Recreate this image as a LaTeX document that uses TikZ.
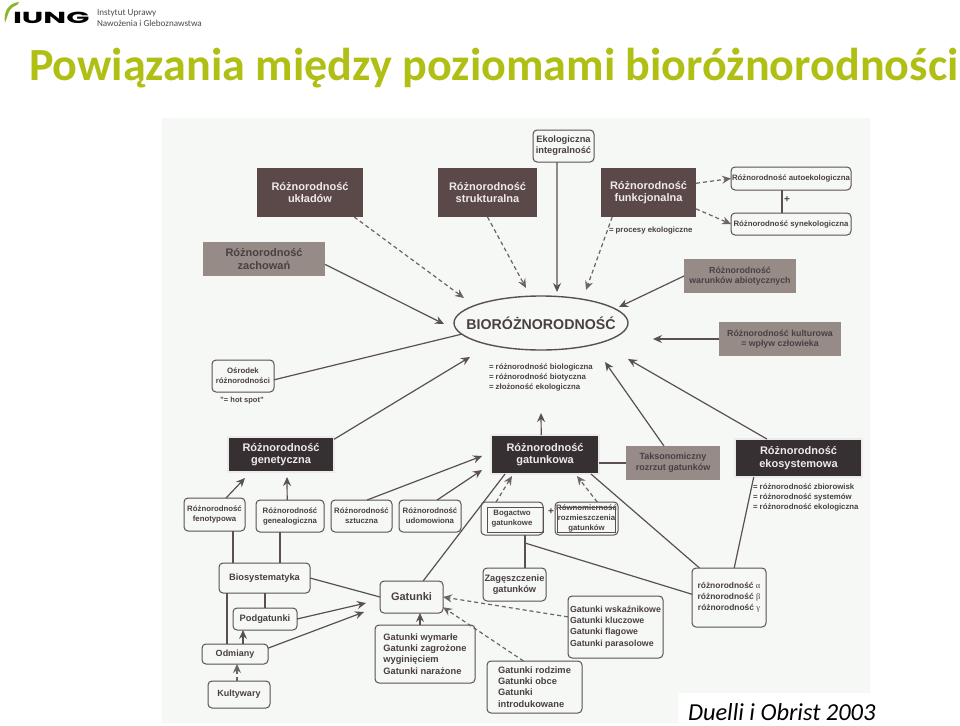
\documentclass[tikz,border=0pt]{standalone}
\usepackage{fontspec}
\usepackage{graphicx}
\setmainfont{Liberation Sans}
\newfontfamily\titlefont{Carlito}
\newfontfamily\logofont{Poppins}
\newfontfamily\greekfont{Liberation Serif}
\usetikzlibrary{arrows.meta,shapes.geometric,calc}
\definecolor{scanbg}{HTML}{F6F8F6}
\definecolor{titlegreen}{HTML}{B0BF14}
\definecolor{leafgreen}{HTML}{8DB62A}
\definecolor{logotxt}{HTML}{4A4A4A}
\definecolor{inkdark}{HTML}{4A3F43}
\definecolor{brownbox}{HTML}{5B4849}
\definecolor{blackbox}{HTML}{373033}
\definecolor{greybox}{HTML}{978B88}
\definecolor{edgegrey}{HTML}{5A5053}
\definecolor{dashgrey}{HTML}{6A6463}
\definecolor{boxwhite}{HTML}{EFEAEA}
\newcommand{\fsz}[2]{\fontsize{#1}{#2}\selectfont}
\begin{document}
\begin{tikzpicture}[
  x=1pt,y=-1pt,
  every node/.style={font=\bfseries,align=center,inner sep=0pt,outer sep=0pt,text=inkdark},
  brownb/.style={fill=brownbox,text=boxwhite,font=\bfseries\fsz{11}{12.7}},
  greyb/.style={fill=greybox,font=\bfseries\fsz{8.8}{10.2}},
  blackb/.style={fill=blackbox,draw=edgegrey,double=boxwhite,double distance=1.3pt,line width=.8pt,text=boxwhite,font=\bfseries\fsz{11}{12.7}},
  pill/.style={draw=edgegrey,fill=scanbg,line width=1pt,rounded corners=4pt,font=\bfseries\fsz{7.8}{10}},
  pillb/.style={pill,font=\bfseries\fsz{9.3}{11.2}},
  note/.style={font=\bfseries\fsz{7.8}{10},align=left},
  arr/.style={-{Stealth[length=9pt,width=8pt,inset=3pt]},line width=1.2pt,draw=edgegrey},
  darr/.style={arr,draw=dashgrey,dash pattern=on 4pt off 3pt},
  lin/.style={line width=1.2pt,draw=edgegrey}
]
\useasboundingbox (0,0) rectangle (960,725);
\fill[scanbg] (162,118) rectangle (870,723);
\fill[white] (678,693) rectangle (960,725);
\node[anchor=base west,text=black] (logo) at (13,24) {\logofont\fsz{16}{16}\scalebox{1.9}[1]{IUNG}};
\fill[leafgreen] (5,23) .. controls (3,11) and (9,3) .. (19,2) .. controls (19,6) and (13,5) .. (10,10) .. controls (8,13) and (7,18) .. (5,23) -- cycle;
\node[anchor=north west,text=logotxt,font=\fsz{9.1}{11},align=left] (inst) at (97,10) {\titlefont\mdseries Instytut Uprawy\\\titlefont\mdseries Nawożenia i Gleboznawstwa};
\node[anchor=base west,text=titlegreen] (title) at (29,81) {\titlefont\fsz{46.1}{46.1}Powiązania między poziomami bioróżnorodności};
\node[anchor=base west,text=black] (cite) at (688,720.5) {\titlefont\mdseries\itshape\fsz{24.4}{24.4}Duelli i Obrist 2003};

\node[draw=edgegrey,line width=1.4pt,fill=scanbg,ellipse,inner xsep=-14pt,minimum width=174pt,minimum height=54pt,font=\bfseries\fsz{14.2}{16}] (bio) at (541,323) {BIORÓŻNORODNOŚĆ};
\node[brownb,minimum width=106pt,minimum height=49pt] (uklad) at (310,192.5) {Różnorodność\\układów};
\node[brownb,minimum width=99pt,minimum height=49pt] (strukt) at (487.5,192.5) {Różnorodność\\strukturalna};
\node[brownb,minimum width=95pt,minimum height=49pt] (funkc) at (648.5,192.5) {Różnorodność\\funkcjonalna};
\node[greyb,minimum width=122pt,minimum height=34pt,font=\bfseries\fsz{11}{12.7}] (zach) at (264,259) {Różnorodność\\zachowań};
\node[pillb,minimum width=61pt,minimum height=32pt] (ekol) at (563.5,146) {Ekologiczna\\integralność};
\node[pill,minimum width=120pt,minimum height=23pt] (auto) at (791,178.5) {Różnorodność autoekologiczna};
\node[pill,minimum width=120pt,minimum height=22pt] (syn) at (791,224) {Różnorodność synekologiczna};
\node[greyb,minimum width=112pt,minimum height=34pt] (abiot) at (740,276) {Różnorodność\\warunków abiotycznych};
\node[greyb,minimum width=122pt,minimum height=34pt] (kult) at (780,339) {Różnorodność kulturowa\\= wpływ człowieka};
\node[pill,minimum width=62pt,minimum height=32pt] (osr) at (243,376) {Ośrodek\\różnorodności};
\node[note,align=center,font=\bfseries\fsz{7.5}{9}] (hot) at (242,401) {"= hot spot"};
\node[note,anchor=north west] (syno) at (489,363.5) {= różnorodność biologiczna\\= różnorodność biotyczna\\= złożoność ekologiczna};
\node[note,anchor=base west] (proc) at (609,232) {= procesy ekologiczne};
\node[font=\bfseries\fsz{10}{10}] (plusa) at (787,200) {+};

\node[blackb,minimum width=106pt,minimum height=35pt] (gen) at (281,454.5) {Różnorodność\\genetyczna};
\node[blackb,minimum width=108pt,minimum height=39pt] (gat) at (545,454.5) {Różnorodność\\gatunkowa};
\node[blackb,minimum width=127pt,minimum height=38pt] (eko) at (798.5,458) {Różnorodność\\ekosystemowa};
\node[greyb,minimum width=94pt,minimum height=34pt,font=\bfseries\fsz{9}{11}] (tax) at (673,463) {Taksonomiczny\\rozrzut gatunków};
\node[note,anchor=north west] (ekosyn) at (753,484) {= różnorodność zbiorowisk\\= różnorodność systemów\\= różnorodność ekologiczna};

\node[pill,minimum width=61pt,minimum height=33pt] (fen) at (214.5,514.5) {Różnorodność\\fenotypowa};
\node[pill,minimum width=68pt,minimum height=32pt] (geneal) at (290,516) {Różnorodność\\genealogiczna};
\node[pill,minimum width=61pt,minimum height=32pt] (szt) at (361.5,516) {Różnorodność\\sztuczna};
\node[pill,minimum width=62pt,minimum height=32pt] (udom) at (430,516) {Różnorodność\\udomowiona};
\node[pill,minimum width=62pt,minimum height=33pt] (bog) at (512,518.5) {Bogactwo\\gatunkowe};
\node[pill,minimum width=63pt,minimum height=33pt,font=\bfseries\fsz{7.8}{9.8}] (rown) at (586.5,518.5) {Równomierność\\rozmieszczenia\\gatunków};
\node[font=\bfseries\fsz{10}{10}] (plusb) at (551,512) {+};
\node[pillb,minimum width=63pt,minimum height=33pt,font=\bfseries\fsz{9.3}{10.7}] (zag) at (514.5,584.5) {Zagęszczenie\\gatunków};
\node[pill,minimum width=74pt,minimum height=59pt,font=\bfseries\fsz{8.4}{10.8}] (beta) at (729,597.5) {różnorodność {\greekfont\mdseries α}\\różnorodność {\greekfont\mdseries β}\\różnorodność {\greekfont\mdseries γ}};

\node[pillb,minimum width=91pt,minimum height=30pt] (biosys) at (264.5,578) {Biosystematyka};
\node[pillb,minimum width=64pt,minimum height=22pt] (podg) at (265,619) {Podgatunki};
\node[pillb,minimum width=66pt,minimum height=20pt,font=\bfseries\fsz{9}{11}] (odm) at (235,654) {Odmiany};
\node[pillb,minimum width=62pt,minimum height=27pt,font=\bfseries\fsz{9}{11}] (kulty) at (239,694.5) {Kultywary};
\node[pillb,minimum width=63pt,minimum height=32pt,font=\bfseries\fsz{11}{12}] (gatki) at (411.5,597) {Gatunki};
\node[pillb,minimum width=100pt,minimum height=58pt,align=left] (wym) at (425,654) {Gatunki wymarłe\\Gatunki zagrożone\\wyginięciem\\Gatunki narażone};
\node[pillb,minimum width=95pt,minimum height=62pt,align=left,font=\bfseries\fsz{8.8}{11.3}] (wsk) at (615.5,627) {Gatunki wskaźnikowe\\Gatunki kluczowe\\Gatunki flagowe\\Gatunki parasolowe};
\node[pillb,minimum width=95pt,minimum height=52pt,align=left,font=\bfseries\fsz{9.3}{11.3}] (rodz) at (534.5,687) {Gatunki rodzime\\Gatunki obce\\Gatunki\\introdukowane};

\draw[line width=.7pt,draw=edgegrey] (487,507) rectangle (543,532);
\draw[line width=.7pt,draw=edgegrey] (557,507) rectangle (615,532);

\coordinate (tipuklad) at (464,298);
\coordinate (tipstrukt) at (526,288);
\coordinate (tipekol) at (557,292);
\coordinate (tipfunkc) at (586,290);
\coordinate (tipzach) at (444,324);
\coordinate (tipabiot) at (619,307);
\coordinate (tipkult) at (653,339);
\coordinate (tipgen) at (470,357);
\coordinate (tipgat) at (541,413);
\coordinate (tiptax) at (605,362);
\coordinate (tipeko) at (628,359);
\coordinate (tipfen) at (245,478);
\coordinate (tipgeneal) at (287,477);
\coordinate (tipszt) at (482,456);
\coordinate (tipudom) at (482,470);
\coordinate (tipbog) at (512,476);
\coordinate (tiprown) at (577,476);
\coordinate (tippodg) at (366,603);
\coordinate (tipodm) at (364,612);
\coordinate (junc) at (525,543);

\draw[darr] (uklad.-29) -- (tipuklad);
\draw[darr] (strukt.south) -- (tipstrukt);
\draw[arr] (ekol.-112) -- (tipekol);
\draw[darr] (funkc.-146) -- (tipfunkc);
\draw[darr] (funkc.11) -- (auto.west);
\draw[darr] (funkc.-19) -- (syn.west);
\draw[lin] ($(auto.south)+(-9,0)$) -- ($(syn.north)+(-9,0)$);
\draw[arr] (zach.-5) -- (tipzach);
\draw[arr] (abiot.west) -- (tipabiot);
\draw[arr] (kult.west) -- (tipkult);
\draw[lin] (osr.-7) -- (bio.188);
\draw[arr] (gen.16) -- (tipgen);
\draw[arr] (gat.101) -- (tipgat);
\draw[arr] (tax.118) -- (tiptax);
\draw[arr] (eko.149) -- (tipeko);
\draw[lin] (tax.west) -- (tax.west -| gat.east);
\draw[arr] (fen.55) -- (tipfen);
\draw[arr] (geneal.100) -- (tipgeneal);
\draw[arr] (szt.71) -- (tipszt);
\draw[arr] (udom.66) -- (tipudom);
\draw[lin] (fen.south -| 233,0) -- (biosys.north -| 233,0);
\draw[lin] (geneal.south -| 280,0) -- (biosys.north -| 280,0);
\draw[lin] (biosys.east) -- (gatki.west);
\draw[lin] (gatki.54) -- (gat.-154);
\draw[lin] (biosys.south -| podg.north) -- (podg.north);
\draw[lin] (biosys.south -| 227,0) -- (odm.north -| 227,0);
\draw[arr] (podg.east) -- (tippodg);
\draw[arr] (odm.10) -- (tipodm);
\draw[arr] (odm.north -| 243,0) -- (podg.south -| 243,0);
\draw[darr] (kulty.north -| 237,0) -- (odm.south -| 237,0);
\draw[arr] (wym.north -| 420,0) -- (gatki.south -| 420,0);
\draw[darr] (wsk.168) -- (gatki.east);
\draw[darr] (rodz.113) -- (gatki.-18);
\draw[darr] (bog.134) -- (tipbog);
\draw[darr] (rown.57) -- (tiprown);
\draw[lin] (gat.-23) -- (beta.135);
\draw[lin] (eko.-157) -- (beta.80);
\draw[lin] (bog.south -| junc) -- (junc |- zag.north);
\draw[lin] (junc) -- (beta.175);
\end{tikzpicture}
\end{document}
